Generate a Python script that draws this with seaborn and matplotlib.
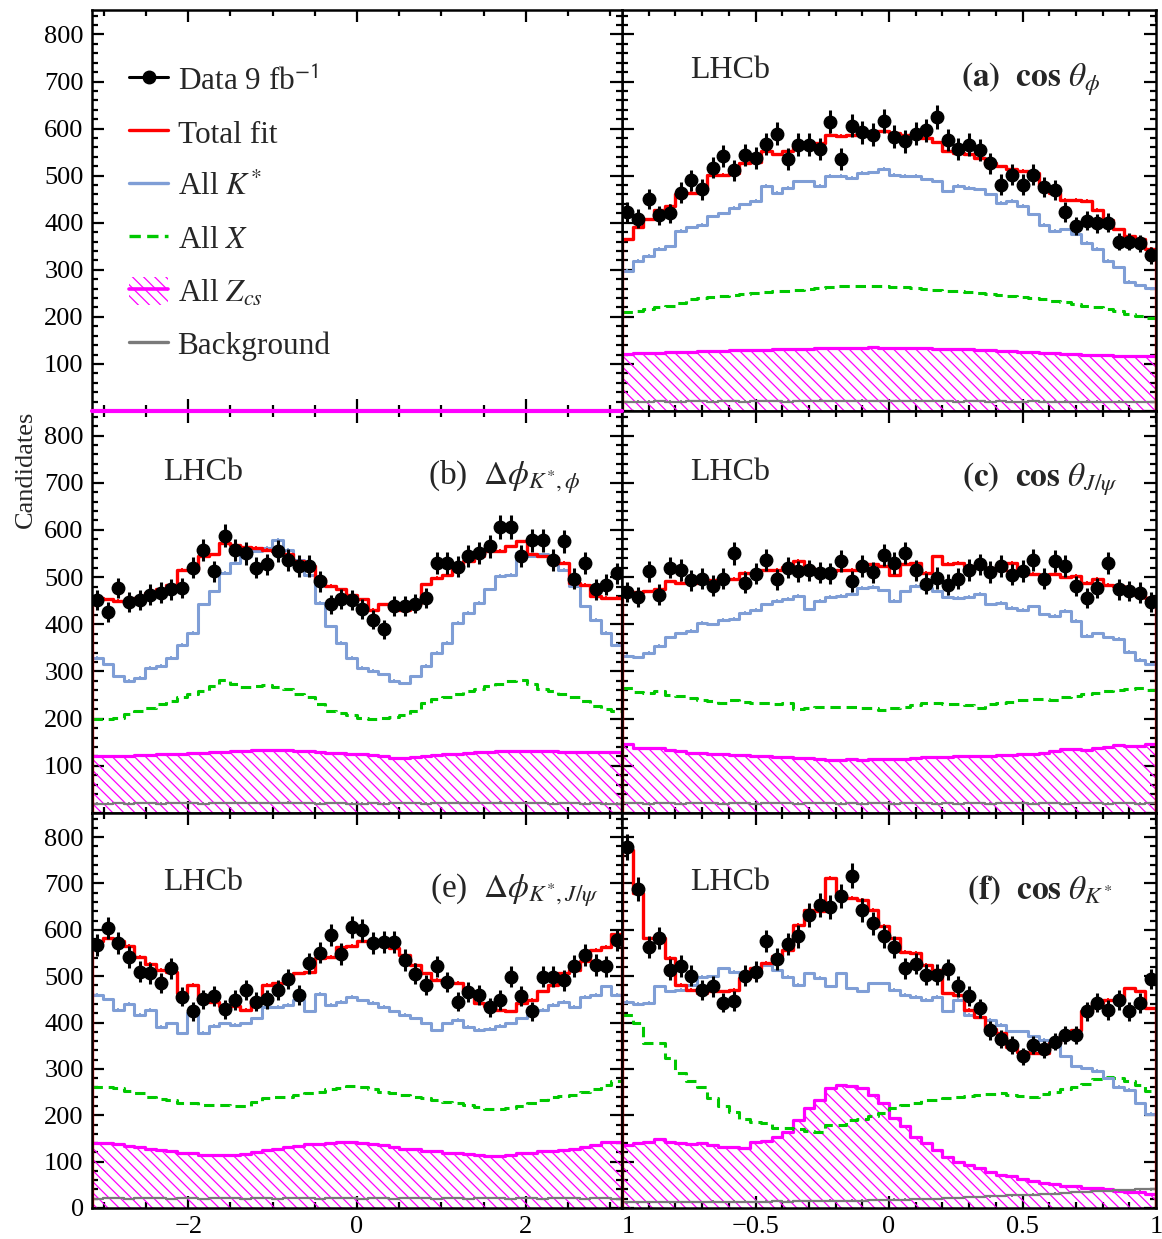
"""
Angular distributions with fit projections (cos theta and delta-phi), 3x2 panel layout.
"""
import numpy as np
import matplotlib
matplotlib.use('Agg')
import matplotlib.pyplot as plt
import seaborn as sns
from matplotlib.ticker import MultipleLocator, FuncFormatter, NullFormatter
from matplotlib.lines import Line2D
from matplotlib.patches import Patch
from matplotlib.transforms import Bbox, TransformedBbox

# ---- binning ----
N_BINS = 50
edges_phi = np.linspace(-np.pi, np.pi, N_BINS + 1)
edges_cos = np.linspace(-1, 1, N_BINS + 1)

# ---- (a) cos theta_phi ----
data_a = [423, 409, 451, 416, 420, 464, 490, 471, 517, 541, 511, 544, 537, 567, 589, 536, 566, 566, 557, 615,
          536, 606, 592, 587, 616, 583, 573, 589, 597, 625, 576, 557, 566, 555, 526, 481, 502, 481, 502, 476,
          469, 423, 393, 404, 399, 400, 360, 360, 356, 331]
fit_a = [365, 390, 407, 428, 436, 460, 464, 471, 502, 502, 506, 527, 530, 552, 545, 552, 564, 566, 569, 587,
         585, 587, 590, 592, 594, 590, 587, 585, 580, 571, 552, 548, 547, 537, 527, 520, 514, 510, 506, 478,
         464, 449, 449, 446, 428, 405, 386, 372, 365, 344]
kst_a = [298, 319, 330, 344, 350, 383, 390, 395, 414, 420, 432, 439, 446, 478, 464, 474, 488, 488, 478, 499,
         499, 495, 506, 507, 514, 502, 499, 499, 492, 488, 467, 478, 474, 471, 460, 442, 446, 436, 418, 395,
         383, 386, 376, 358, 344, 319, 305, 274, 267, 261]
x_a = [210, 213, 216, 220, 224, 230, 238, 241, 243, 245, 247, 249, 251, 252, 254, 256, 257, 259, 261, 263,
       265, 265, 266, 265, 265, 264, 263, 261, 260, 258, 256, 254, 252, 251, 249, 247, 245, 242, 240, 237,
       234, 231, 228, 224, 220, 217, 213, 207, 202, 198]
zcs_a = [122, 123, 123, 124, 125, 126, 126, 127, 128, 128, 129, 129, 130, 130, 131, 131, 132, 132, 133, 133,
         134, 134, 134, 135, 134, 134, 133, 133, 133, 132, 132, 131, 131, 130, 129, 128, 127, 126, 125, 124,
         123, 122, 121, 120, 119, 118, 117, 116, 117, 117]
bg_a = [19, 20, 20, 21, 20, 20, 21, 21, 20, 21, 21, 20, 21, 21, 21, 20, 21, 21, 22, 21,
        21, 21, 22, 21, 21, 21, 21, 22, 21, 21, 21, 20, 21, 21, 20, 21, 20, 20, 21, 20,
        20, 20, 19, 20, 20, 19, 20, 19, 19, 19]

# ---- (b) delta phi K*, phi ----
data_b = [451, 426, 477, 447, 451, 463, 467, 474, 477, 520, 558, 512, 588, 558, 550, 520, 527, 555, 536, 524,
          524, 491, 442, 454, 451, 433, 410, 389, 438, 438, 444, 456, 530, 530, 522, 544, 551, 565, 606, 606,
          544, 578, 578, 536, 576, 497, 530, 474, 484, 508]
fit_b = [456, 453, 449, 447, 456, 466, 474, 484, 516, 516, 544, 548, 572, 569, 564, 562, 558, 555, 548, 534,
         523, 495, 481, 474, 463, 453, 431, 442, 435, 431, 446, 485, 498, 505, 523, 534, 544, 555, 555, 565,
         576, 548, 544, 541, 530, 488, 484, 460, 456, 456]
kst_b = [329, 315, 290, 280, 287, 308, 312, 329, 357, 382, 442, 470, 509, 530, 544, 555, 562, 579, 558, 537,
         505, 446, 396, 361, 329, 308, 301, 294, 280, 275, 290, 312, 340, 361, 403, 424, 446, 474, 502, 505,
         551, 544, 548, 541, 516, 481, 438, 410, 382, 357]
x_b = [199, 200, 202, 209, 216, 223, 230, 237, 245, 252, 259, 269, 282, 273, 268, 269, 271, 268, 262, 252,
       245, 230, 216, 211, 207, 202, 200, 202, 204, 207, 216, 234, 241, 246, 253, 258, 263, 269, 273, 280,
       282, 273, 263, 258, 253, 246, 237, 227, 221, 216]
zcs_b = [121, 120, 120, 121, 122, 123, 124, 125, 126, 127, 128, 129, 130, 131, 132, 133, 134, 133, 133, 132,
         131, 130, 128, 127, 126, 124, 122, 121, 116, 116, 118, 121, 123, 125, 126, 128, 129, 130, 131, 131,
         132, 132, 131, 131, 130, 130, 129, 129, 129, 129]
bg_b = [20, 20, 21, 20, 21, 21, 20, 21, 21, 21, 20, 21, 21, 22, 21, 21, 21, 21, 22, 21,
        21, 20, 21, 21, 20, 20, 21, 20, 21, 21, 21, 20, 21, 21, 22, 21, 21, 21, 22, 21,
        21, 21, 21, 20, 21, 21, 20, 21, 20, 20]

# ---- (c) cos theta_J/psi ----
data_c = [468, 458, 512, 463, 520, 515, 493, 496, 482, 496, 550, 488, 507, 537, 495, 520, 512, 514, 509, 508,
          534, 491, 523, 510, 547, 530, 551, 514, 486, 498, 484, 496, 515, 527, 511, 524, 505, 513, 537, 497,
          534, 524, 481, 456, 477, 530, 474, 470, 467, 447]
fit_c = [467, 468, 470, 474, 491, 488, 488, 493, 493, 496, 496, 509, 509, 516, 516, 521, 534, 519, 512, 512,
         516, 516, 527, 527, 523, 505, 527, 530, 509, 544, 528, 530, 523, 523, 519, 516, 530, 509, 507, 505,
         507, 500, 502, 488, 496, 484, 481, 472, 462, 456]
kst_c = [333, 330, 340, 354, 372, 381, 386, 403, 400, 409, 411, 424, 431, 442, 449, 454, 460, 432, 449, 458,
         460, 464, 477, 479, 472, 449, 470, 482, 477, 470, 458, 456, 458, 465, 442, 446, 435, 431, 438, 421,
         418, 428, 407, 375, 381, 372, 369, 342, 324, 315]
x_c = [264, 257, 255, 259, 250, 247, 243, 240, 238, 234, 240, 236, 234, 233, 231, 233, 221, 223, 225, 225,
       224, 224, 223, 223, 219, 223, 224, 228, 233, 233, 231, 231, 228, 223, 231, 234, 236, 239, 241, 242,
       240, 245, 248, 252, 255, 259, 261, 262, 264, 261]
zcs_c = [146, 137, 137, 137, 134, 132, 128, 127, 125, 125, 123, 122, 120, 120, 118, 118, 116, 116, 114, 113,
         113, 114, 113, 114, 114, 115, 115, 117, 118, 118, 119, 120, 121, 121, 121, 122, 123, 125, 126, 128,
         132, 136, 136, 134, 137, 139, 144, 143, 141, 146]
bg_c = [21, 21, 20, 21, 21, 20, 21, 21, 21, 20, 21, 21, 20, 21, 21, 21, 20, 21, 21, 21,
        20, 21, 20, 21, 21, 20, 21, 21, 21, 20, 21, 20, 21, 21, 20, 21, 21, 21, 20, 21,
        21, 20, 21, 21, 21, 20, 21, 21, 20, 21]

# ---- (e) delta phi K*, J/psi ----
data_e = [568, 604, 571, 542, 510, 506, 485, 517, 456, 424, 450, 458, 429, 449, 470, 445, 450, 470, 494, 460,
          528, 551, 589, 548, 606, 599, 571, 573, 573, 535, 505, 481, 521, 488, 445, 465, 460, 433, 449, 499,
          458, 424, 499, 499, 491, 522, 546, 524, 521, 578]
fit_e = [575, 582, 575, 565, 542, 527, 514, 510, 463, 481, 449, 445, 435, 435, 427, 449, 481, 485, 492, 506,
         510, 539, 542, 563, 565, 575, 575, 568, 560, 546, 524, 506, 492, 486, 486, 467, 442, 435, 427, 424,
         442, 449, 467, 481, 506, 514, 532, 557, 564, 590]
kst_e = [460, 450, 427, 441, 417, 427, 391, 398, 377, 420, 378, 393, 398, 395, 398, 409, 434, 434, 438, 449,
         424, 462, 438, 445, 455, 448, 442, 434, 424, 417, 409, 398, 383, 398, 406, 391, 384, 387, 393, 398,
         409, 424, 427, 438, 445, 434, 456, 460, 478, 460]
x_e = [262, 262, 258, 253, 247, 240, 235, 233, 226, 226, 222, 223, 222, 220, 219, 228, 238, 240, 240, 244,
       249, 251, 256, 258, 263, 262, 256, 251, 247, 244, 239, 237, 233, 229, 226, 222, 217, 213, 213, 215,
       220, 226, 232, 239, 242, 244, 251, 256, 265, 273]
zcs_e = [140, 140, 138, 134, 132, 127, 125, 122, 119, 118, 115, 115, 115, 115, 116, 121, 125, 128, 131, 133,
         138, 139, 141, 142, 142, 140, 138, 136, 132, 128, 127, 124, 122, 119, 118, 116, 115, 113, 112, 115,
         118, 119, 122, 124, 125, 127, 131, 136, 143, 143]
bg_e = [20, 21, 21, 20, 21, 21, 21, 20, 21, 21, 20, 21, 21, 21, 20, 21, 21, 20, 21, 21,
        21, 20, 21, 21, 21, 20, 21, 21, 20, 21, 21, 21, 20, 21, 21, 20, 21, 21, 21, 20,
        21, 21, 20, 21, 21, 21, 20, 21, 21, 20]

# ---- (f) cos theta_K* ----
data_f = [778, 688, 564, 582, 514, 522, 501, 471, 478, 443, 447, 501, 510, 576, 537, 569, 586, 632, 654, 649,
          673, 717, 643, 614, 586, 564, 517, 527, 503, 503, 515, 478, 458, 431, 383, 364, 352, 327, 352, 342,
          359, 373, 373, 424, 443, 427, 449, 424, 442, 494]
fit_f = [773, 679, 582, 582, 539, 481, 471, 464, 467, 467, 471, 496, 518, 529, 543, 557, 611, 643, 640, 712,
         676, 669, 665, 643, 609, 582, 553, 550, 524, 514, 463, 460, 427, 413, 386, 377, 348, 337, 334, 334,
         355, 373, 384, 424, 442, 449, 449, 474, 467, 431]
kst_f = [445, 441, 443, 478, 467, 471, 481, 499, 500, 517, 510, 506, 514, 524, 514, 499, 481, 506, 496, 478,
         506, 474, 467, 485, 485, 471, 460, 456, 449, 456, 424, 449, 417, 413, 406, 395, 381, 381, 370, 363,
         355, 327, 306, 301, 296, 280, 262, 255, 226, 203]
x_f = [417, 399, 355, 355, 323, 291, 273, 262, 237, 219, 208, 191, 186, 183, 172, 172, 170, 167, 163, 179,
       179, 190, 191, 199, 204, 215, 222, 226, 233, 233, 237, 239, 242, 244, 246, 249, 244, 242, 240, 246,
       251, 256, 260, 268, 278, 283, 280, 274, 266, 252]
zcs_f = [136, 140, 143, 148, 143, 141, 138, 140, 136, 132, 131, 129, 143, 145, 154, 163, 190, 215, 233, 258,
         265, 263, 258, 244, 226, 194, 176, 154, 140, 125, 111, 100, 93, 86, 78, 71, 68, 62, 59, 55,
         52, 48, 47, 44, 44, 40, 37, 35, 34, 30]
bg_f = [12, 12, 13, 13, 12, 13, 13, 13, 14, 13, 14, 14, 14, 14, 15, 14, 15, 15, 15, 16,
        15, 16, 16, 17, 17, 18, 18, 19, 20, 20, 21, 22, 23, 24, 25, 26, 27, 28, 29, 30,
        31, 33, 34, 35, 36, 37, 38, 39, 40, 40]

# ---- styling ----
RED = '#ff0000'
BLUE = '#7f9ed6'
GREEN = '#00c800'
MAGENTA = '#ff00ff'
GRAY = '#7a7a7a'
DASH = (0, (3.4, 1.9))
HATCH = '\\\\\\'

sns.set_theme(style='ticks')
plt.rcParams['font.family'] = ['Liberation Serif', 'DejaVu Serif']
plt.rcParams['mathtext.fontset'] = 'stix'
plt.rcParams['hatch.linewidth'] = 0.9
plt.rcParams['hatch.color'] = MAGENTA
plt.rcParams['axes.linewidth'] = 1.8
plt.rcParams['axes.edgecolor'] = 'black'
plt.rcParams['xtick.color'] = 'black'
plt.rcParams['ytick.color'] = 'black'


def step_line(ax, edges, vals, color, lw, ls='-', err=3.5):
    centers = 0.5 * (edges[1:] + edges[:-1])
    sns.histplot(x=centers, weights=vals, bins=list(edges), element='step', fill=False,
                 color=color, linewidth=lw, linestyle=ls, ax=ax)
    # small MC uncertainty marks at each bin centre
    if err > 0:
        ax.errorbar(centers, vals, yerr=err, fmt='none', ecolor=color, elinewidth=1.3, capsize=0)


def draw_panel(ax, edges, data, fit, kst, xx, zcs, bg):
    data = np.asarray(data, dtype=float)
    fit = np.asarray(fit, dtype=float)
    zcs = np.asarray(zcs, dtype=float)
    centers = 0.5 * (edges[1:] + edges[:-1])

    # Z_cs hatched area
    ax.fill_between(edges, np.append(zcs, zcs[-1]), step='post', facecolor='none',
                    edgecolor=MAGENTA, hatch=HATCH, linewidth=0)
    step_line(ax, edges, zcs, MAGENTA, 2.3, err=0)
    step_line(ax, edges, bg, GRAY, 1.6, err=2.5)
    step_line(ax, edges, xx, GREEN, 2.2, ls=DASH, err=0)
    step_line(ax, edges, kst, BLUE, 2.2)
    step_line(ax, edges, fit, RED, 2.4)
    ax.vlines([edges[0], edges[-1]], 0, [fit[0], fit[-1]], color=RED, lw=2.4)

    ax.errorbar(centers, data, yerr=np.sqrt(data), fmt='o', color='black',
                ms=9, elinewidth=2.2, capsize=0, zorder=5)


def style_axes(ax, is_phi, xlabels, ylabels, show_zero):
    if is_phi:
        ax.set_xlim(-np.pi, np.pi)
        ax.xaxis.set_major_locator(MultipleLocator(2))
        ax.xaxis.set_minor_locator(MultipleLocator(0.5))
    else:
        ax.set_xlim(-1, 1)
        ax.xaxis.set_major_locator(MultipleLocator(0.5))
        ax.xaxis.set_minor_locator(MultipleLocator(0.1))
        ax.xaxis.set_major_formatter(FuncFormatter(
            lambda v, p: '0' if abs(v) < 1e-9 else ('%g' % v).replace('-', '\u2212')))
    ax.set_ylim(0, 852)
    ax.yaxis.set_major_locator(MultipleLocator(100))
    ax.yaxis.set_minor_locator(MultipleLocator(20))
    if ylabels:
        ax.yaxis.set_major_formatter(FuncFormatter(
            lambda v, p: '' if (v == 0 and not show_zero) else '%d' % v))
    else:
        ax.yaxis.set_major_formatter(NullFormatter())
    if not xlabels:
        ax.xaxis.set_major_formatter(NullFormatter())
    ax.tick_params(which='both', direction='in', top=True, right=True,
                   width=1.6, labelsize=19, pad=6)
    ax.tick_params(which='major', length=8.5)
    ax.tick_params(which='minor', length=4.5)
    ax.set_xlabel('')
    ax.set_ylabel('')
    ax.grid(False)


fig = plt.figure(figsize=(11.62, 12.39), dpi=100)
W, H = 1162.0, 1239.0
XL, WL = 92 / W, 530 / W
XR, WR = 622 / W, 534 / W
rows = [(1 - 411 / H, 401 / H), (1 - 813 / H, 402 / H), (1 - 1208 / H, 395 / H)]

ax_leg = fig.add_axes([XL, rows[0][0], WL, rows[0][1]])
ax_a = fig.add_axes([XR, rows[0][0], WR, rows[0][1]])
ax_b = fig.add_axes([XL, rows[1][0], WL, rows[1][1]])
ax_c = fig.add_axes([XR, rows[1][0], WR, rows[1][1]])
ax_e = fig.add_axes([XL, rows[2][0], WL, rows[2][1]])
ax_f = fig.add_axes([XR, rows[2][0], WR, rows[2][1]])
ax_leg.set_zorder(1)   # its zero-height Z_cs line sits on top of the pad below

draw_panel(ax_a, edges_cos, data_a, fit_a, kst_a, x_a, zcs_a, bg_a)
draw_panel(ax_b, edges_phi, data_b, fit_b, kst_b, x_b, zcs_b, bg_b)
draw_panel(ax_c, edges_cos, data_c, fit_c, kst_c, x_c, zcs_c, bg_c)
draw_panel(ax_e, edges_phi, data_e, fit_e, kst_e, x_e, zcs_e, bg_e)
draw_panel(ax_f, edges_cos, data_f, fit_f, kst_f, x_f, zcs_f, bg_f)

# empty legend pad: only the zero-height Z_cs line shows
ax_leg.axhline(0, color=MAGENTA, lw=3, zorder=4, clip_on=False)

style_axes(ax_leg, True, False, True, False)
style_axes(ax_a, False, False, False, False)
style_axes(ax_b, True, False, True, False)
style_axes(ax_c, False, False, False, False)
style_axes(ax_e, True, True, True, True)
style_axes(ax_f, False, True, False, False)

ax_b.set_ylabel('Candidates', loc='top', fontsize=19, labelpad=5)

# panel labels
TXT = 23
LAB = 24
for ax, x_lhcb, y_lhcb in [(ax_a, 0.127, 0.848), (ax_b, 0.134, 0.848), (ax_c, 0.127, 0.848),
                           (ax_e, 0.134, 0.825), (ax_f, 0.127, 0.825)]:
    ax.text(x_lhcb, y_lhcb, 'LHCb', transform=ax.transAxes, fontsize=TXT, ha='left', va='center')

ax_a.text(0.895, 0.828, r'$\mathbf{(a)}\ \ \mathbf{cos}\ \theta_{\phi}$', transform=ax_a.transAxes,
          fontsize=LAB, ha='right', va='center')
ax_b.text(0.922, 0.835, r'(b) $\ \Delta\phi_{K^{*},\phi}$', transform=ax_b.transAxes,
          fontsize=LAB, ha='right', va='center')
ax_c.text(0.93, 0.83, r'$\mathbf{(c)}\ \ \mathbf{cos}\ \theta_{J/\psi}$', transform=ax_c.transAxes,
          fontsize=LAB, ha='right', va='center')
ax_e.text(0.957, 0.805, r'(e) $\ \Delta\phi_{K^{*},J/\psi}$', transform=ax_e.transAxes,
          fontsize=LAB, ha='right', va='center')
ax_f.text(0.918, 0.805, r'$\mathbf{(f)}\ \ \mathbf{cos}\ \theta_{K^{*}}$', transform=ax_f.transAxes,
          fontsize=LAB, ha='right', va='center')

# legend
handles = [
    Line2D([], [], color='black', marker='o', ms=9, lw=2.2),
    Line2D([], [], color=RED, lw=2.4),
    Line2D([], [], color=BLUE, lw=2.4),
    Line2D([], [], color=GREEN, lw=2.4, ls=DASH),
    (Patch(facecolor='none', edgecolor=MAGENTA, hatch=HATCH, linewidth=0),
     Line2D([], [], color=MAGENTA, lw=2.6)),
    Line2D([], [], color=GRAY, lw=2.4),
]
labels = ['Data 9 fb$^{\\mathsf{-1}}$', 'Total fit', 'All $K^{*}$', 'All $X$',
          'All $Z_{cs}$', 'Background']
ax_leg.legend(handles, labels, loc='upper left', bbox_to_anchor=(0.07, 0.863),
              frameon=False, fontsize=22.5, handlelength=1.25, handleheight=1.0,
              handletextpad=0.3, labelspacing=0.68, borderaxespad=0, borderpad=0)

# the -1 label of the right pad is cut at the pad edge
fig.canvas.draw()
clip = TransformedBbox(Bbox([[0, -1], [1.2, 1]]), ax_f.transAxes)
for tick in ax_f.xaxis.get_major_ticks():
    tick.label1.set_clip_box(clip)
    tick.label1.set_clip_on(True)

fig.savefig('out.png', dpi=100)
